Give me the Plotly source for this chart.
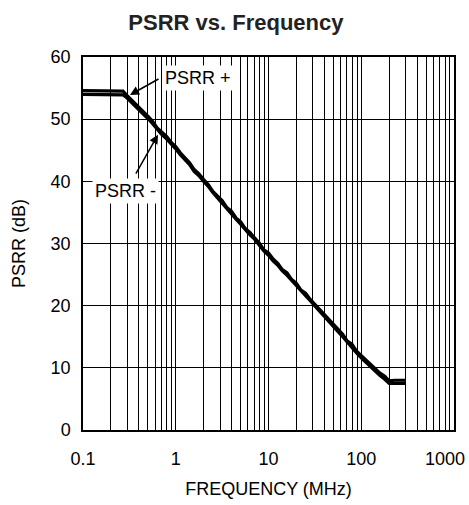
import plotly.graph_objects as go

freq_mhz = [0.1, 0.15, 0.2, 0.25, 0.27, 0.29, 0.32, 0.35, 0.4, 0.45, 0.5, 0.56, 0.63, 0.7, 0.8, 0.9, 1.0,
            1.12, 1.26, 1.41, 1.58, 1.78, 2.0, 2.24, 2.51, 2.82, 3.16, 3.55, 3.98, 4.47, 5.01, 5.62,
            6.31, 7.08, 7.94, 8.91, 10.0, 11.2, 12.6, 14.1, 15.8, 17.8, 20.0, 22.4, 25.1, 28.2, 31.6,
            35.5, 39.8, 44.7, 50.1, 56.2, 63.1, 70.8, 79.4, 89.1, 100, 112, 126, 141, 158, 178, 200,
            230, 260, 300]
psrr_plus = [54.6, 54.6, 54.6, 54.6, 54.5, 54.0, 53.4, 52.8, 51.9, 51.2, 50.5, 49.7, 48.6, 48.0, 47.2,
             46.2, 45.6, 44.6, 43.8, 43.0, 41.9, 41.2, 40.3, 39.5, 38.4, 37.6, 36.9, 35.8, 35.2, 34.1,
             33.5, 32.4, 31.8, 30.9, 30.1, 29.0, 28.5, 27.5, 26.8, 25.8, 25.3, 24.2, 23.6, 22.5, 22.0,
             21.0, 20.2, 19.4, 18.6, 17.8, 16.9, 16.2, 15.4, 14.3, 13.8, 12.7, 12.0, 11.2, 10.5, 9.9,
             9.2, 8.7, 7.9, 8.0, 8.0, 8.0]
psrr_minus = [54.0, 54.0, 54.0, 54.0, 53.9, 53.6, 53.0, 52.4, 51.5, 50.8, 50.1, 49.3, 48.3, 47.6, 46.8,
              46.0, 45.2, 44.3, 43.4, 42.7, 41.6, 40.9, 40.0, 39.2, 38.2, 37.3, 36.6, 35.6, 34.8, 33.9,
              33.1, 32.2, 31.4, 30.7, 29.8, 28.8, 28.1, 27.2, 26.5, 25.6, 24.9, 24.0, 23.2, 22.3, 21.6,
              20.8, 19.9, 19.1, 18.3, 17.4, 16.6, 15.8, 15.0, 14.1, 13.4, 12.4, 11.6, 10.9, 10.1, 9.5,
              8.8, 8.2, 7.5, 7.5, 7.5, 7.5]

x_ticks = [0.1, 1, 10, 100, 1000]
x_ticktext = ["0.1", "1", "10", "100", ""]
last_tick_label = "1000"
y_ticks = [0, 10, 20, 30, 40, 50, 60]
minor_vals = [m * d for d in [0.1, 1, 10, 100] for m in range(2, 10)]

font_family = "Liberation Sans, Arial, sans-serif"

fig = go.Figure()
fig.add_trace(go.Scatter(x=freq_mhz, y=psrr_plus, mode="lines", name="PSRR +",
                         line=dict(color="black", width=3.2)))
fig.add_trace(go.Scatter(x=freq_mhz, y=psrr_minus, mode="lines", name="PSRR -",
                         line=dict(color="black", width=3.2)))

fig.update_layout(
    width=469, height=505,
    margin=dict(l=83, r=15, t=57, b=75, autoexpand=False),
    paper_bgcolor="white", plot_bgcolor="white",
    showlegend=False,
    font=dict(family=font_family, color="black", size=18),
    title=dict(text="<b>PSRR vs. Frequency</b>", x=0.503, xanchor="center", y=0.955, yanchor="middle",
               font=dict(size=22, family=font_family, color="#222")),
)
fig.update_xaxes(type="log", range=[-1, 3.0001], tickvals=x_ticks, ticktext=x_ticktext,
                 showgrid=True, gridcolor="black", gridwidth=1.3,
                 minor=dict(tickvals=minor_vals, showgrid=True, gridcolor="black", gridwidth=1.2),
                 showline=True, linecolor="black", linewidth=1.5, mirror=True,
                 ticks="outside", ticklen=12, tickcolor="rgba(0,0,0,0)",
                 ticklabeloverflow="allow",
                 title=dict(text="FREQUENCY (MHz)", font=dict(size=18), standoff=14),
                 tickfont=dict(size=18))
fig.update_yaxes(range=[0, 60], tickvals=y_ticks,
                 showgrid=True, gridcolor="black", gridwidth=1.3,
                 showline=True, linecolor="black", linewidth=1.5, mirror=True,
                 ticks="outside", ticklen=7, tickcolor="rgba(0,0,0,0)", zeroline=False,
                 ticklabeloverflow="allow",
                 title=dict(text="PSRR (dB)", font=dict(size=18), standoff=20),
                 tickfont=dict(size=18))

# last x tick label, pulled inside the page edge as in the reference
fig.add_annotation(x=3, y=0, xref="x", yref="paper", text=last_tick_label, showarrow=False,
                   xanchor="center", yanchor="middle", xshift=-9, yshift=-29, font=dict(size=18))

# arrows
fig.add_annotation(x=-0.493, y=53.9, ax=-0.17, ay=56.6, xref="x", yref="y", axref="x", ayref="y",
                   text="", showarrow=True, arrowhead=2, arrowsize=1.2, arrowwidth=1.5, arrowcolor="black")
fig.add_annotation(x=-0.191, y=47.5, ax=-0.439, ay=41.0, xref="x", yref="y", axref="x", ayref="y",
                   text="", showarrow=True, arrowhead=2, arrowsize=1.2, arrowwidth=1.5, arrowcolor="black")
# labels
fig.add_annotation(x=0.24, y=56.6, xref="x", yref="y", text="PSRR +", showarrow=False,
                   bgcolor="white", font=dict(size=18), borderpad=2)
fig.add_annotation(x=-0.547, y=38.5, xref="x", yref="y", text="PSRR -", showarrow=False,
                   bgcolor="white", font=dict(size=18), borderpad=2)

fig.write_html("out.html", config={"displayModeBar": False},
               post_script="document.body.style.margin='0';")
